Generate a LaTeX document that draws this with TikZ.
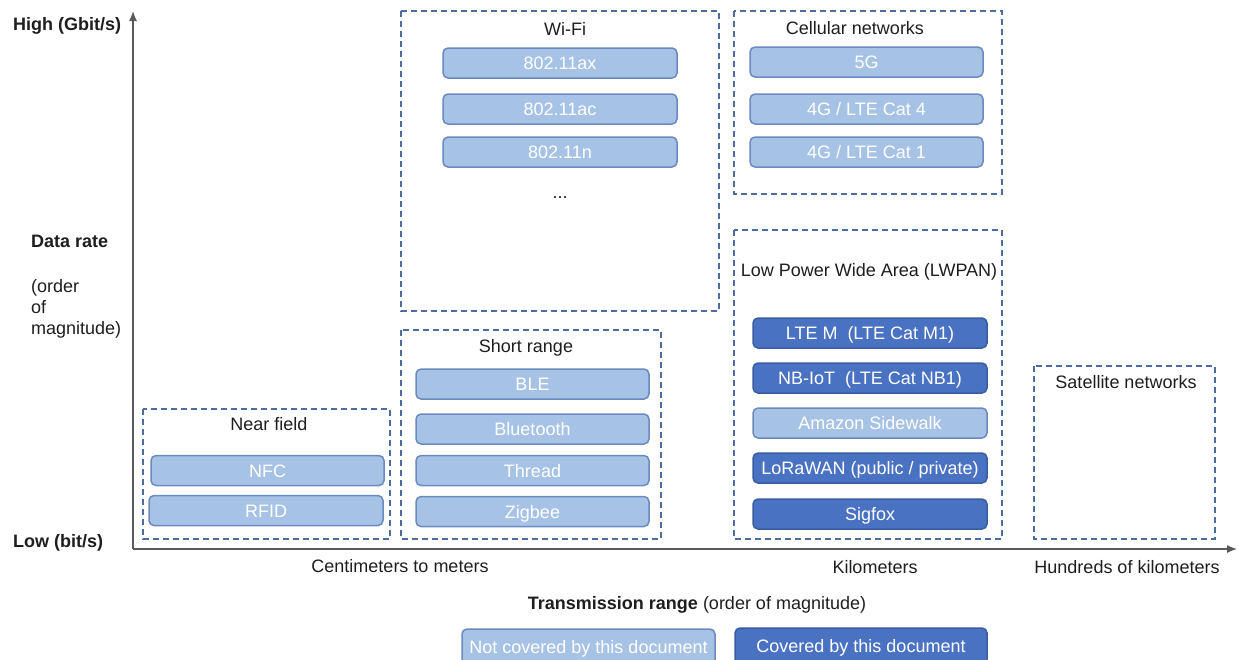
\documentclass[tikz,border=0pt]{standalone}
\usepackage{fontspec}
\setmainfont{Liberation Sans}
\usetikzlibrary{arrows.meta}
\definecolor{lightbox}{HTML}{A6C3E6}
\definecolor{lightedge}{HTML}{6A8AC0}
\definecolor{darkbox}{HTML}{4A72C3}
\definecolor{darkedge}{HTML}{3A5CA0}
\definecolor{dashedge}{HTML}{4D6B9E}
\definecolor{axisgray}{HTML}{5A5A5A}
\definecolor{txt}{HTML}{1E1E1E}

\begin{document}
\begin{tikzpicture}[x=1pt,y=-1pt,
	font=\fontsize{18}{21}\selectfont, text=txt,
	every node/.append style={text height=13pt, text depth=0pt},
	group/.style={draw=dashedge, line width=1.5pt, dash pattern=on 6pt off 4pt},
	tech/.style={rounded corners=5pt, line width=1.5pt, text=white, minimum width=234pt, minimum height=30pt, inner sep=0pt},
	notcov/.style={tech, fill=lightbox, draw=lightedge},
	cov/.style={tech, fill=darkbox, draw=darkedge},
	lbl/.style={anchor=west, inner sep=0pt},
	bold/.style={lbl, font=\fontsize{18}{21}\selectfont\bfseries}]
			\clip (0,0) rectangle (1238,659);
			% axes
			\coordinate (O) at (133,549);
			\coordinate (ytop) at (133,11);
			\coordinate (xend) at (1237,549);
			\draw[axisgray, line width=1.3pt, -{Latex[length=10pt,width=8pt]}] (O) -- (ytop);
			\draw[axisgray, line width=1.3pt, -{Latex[length=10pt,width=8pt]}] (O) -- (xend);
			
			\node[bold] (high) at (13,24) {High (Gbit/s)};
			\node[bold] (low) at (13,541) {Low (bit/s)};
			\node[bold] (rate) at (31,241) {Data rate};
			\node[lbl] (order) at (31,286) {(order};
			\node[lbl] (of) at (31,307) {of};
			\node[lbl] (magn) at (31,328) {magnitude)};
			
			\node (cm) at (400,566) {Centimeters to meters};
			\node (km) at (875,567) {Kilometers};
			\node (hkm) at (1127,567) {Hundreds of kilometers};
			\node (range) at (697,603) {\textbf{Transmission range} (order of magnitude)};
			
			% near field
			\draw[group] (143,409) rectangle (390,539);
			\node (nearT) at (269,424) {Near field};
			\node[notcov, minimum width=233pt] (nfc) at (267.5,470.5) {NFC};
			\node[notcov] (rfid) at (266,510.5) {RFID};
			
			% short range
			\draw[group] (401,330) rectangle (661,539);
			\node (shortT) at (526,346) {Short range};
			\node[notcov, minimum width=233pt] (ble) at (532.5,384) {BLE};
			\node[notcov, minimum width=233pt] (bt) at (532.5,429) {Bluetooth};
			\node[notcov, minimum width=233pt] (thread) at (532.5,470.5) {Thread};
			\node[notcov, minimum width=233pt] (zigbee) at (532.5,511.5) {Zigbee};
			
			% wi-fi
			\draw[group] (401,11) rectangle (719,311);
			\node (wifiT) at (565,29) {Wi-Fi};
			\node[notcov] (ax) at (560,63) {802.11ax};
			\node[notcov] (ac) at (560,109) {802.11ac};
			\node[notcov] (n) at (560,152) {802.11n};
			\node (dots) at (560,192) {...};
			
			% cellular
			\draw[group] (734,11) rectangle (1002,194);
			\node (cellT) at (855,28) {Cellular networks};
			\node[notcov, minimum width=233pt] (fiveg) at (866.5,62) {5G};
			\node[notcov, minimum width=233pt] (cat4) at (866.5,109) {4G / LTE Cat 4};
			\node[notcov, minimum width=233pt] (cat1) at (866.5,152) {4G / LTE Cat 1};
			
			% lpwan
			\draw[group] (734,230) rectangle (1002,539);
			\node (lpwanT) at (869,270) {Low Power Wide Area (LWPAN)};
			\node[cov] (ltem) at (870,333) {LTE M\ \ (LTE Cat M1)};
			\node[cov] (nbiot) at (870,378) {NB-IoT\ \ (LTE Cat NB1)};
			\node[notcov] (sidewalk) at (870,423) {Amazon Sidewalk};
			\node[cov] (lorawan) at (870,468) {LoRaWAN (public / private)};
			\node[cov] (sigfox) at (870,514) {Sigfox};
			
			% satellite
			\draw[group] (1034,366) rectangle (1215,539);
			\node (satT) at (1126,382) {Satellite networks};
			
			% legend
			\node[notcov, minimum width=253pt, minimum height=36pt] (legnot) at (588.5,647) {Not covered by this document};
			\node[cov, minimum width=252pt, minimum height=36pt] (legcov) at (861,646) {Covered by this document};
	\end{tikzpicture}
\end{document}
